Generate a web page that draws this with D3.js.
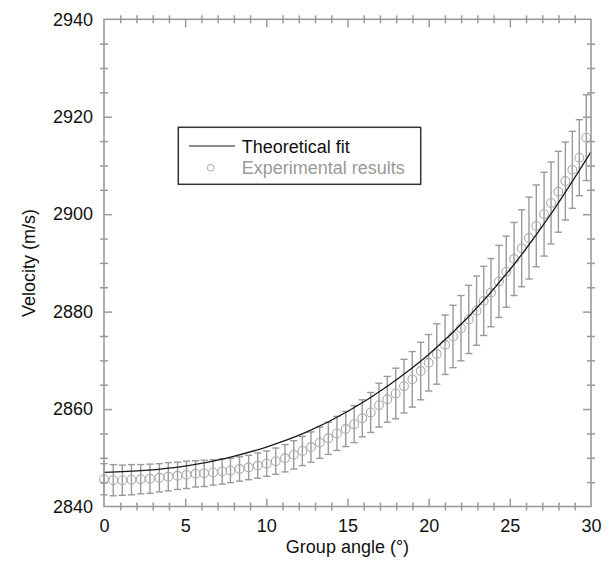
<!DOCTYPE html>
<html>
<head>
<meta charset="utf-8">
<script src="https://cdn.jsdelivr.net/npm/d3@7"></script>
<style>
  html, body { margin: 0; padding: 0; background: #fff; }
  svg { display: block; font-family: "Liberation Sans", Arial, Helvetica, sans-serif; }
</style>
</head>
<body>
<svg id="chart" width="609" height="561"></svg>
<script>
// ---------- data ----------
const xTickLabels = [0, 5, 10, 15, 20, 25, 30];
const yTickLabels = [2840, 2860, 2880, 2900, 2920, 2940];

// Experimental results: group angle (deg)
const expAngle = [
  0.00, 0.57, 1.13, 1.69, 2.26, 2.83, 3.41, 3.96, 4.53, 5.08,
  5.64, 6.17, 6.72, 7.28, 7.79, 8.35, 8.91, 9.47, 10.02, 10.58,
  11.15, 11.69, 12.22, 12.75, 13.29, 13.82, 14.35, 14.89, 15.41, 15.91,
  16.43, 16.94, 17.45, 17.97, 18.48, 18.99, 19.51, 20.00, 20.50, 21.01,
  21.50, 21.99, 22.47, 22.95, 23.39, 23.84, 24.33, 24.78, 25.26, 25.73,
  26.18, 26.63, 27.11, 27.54, 27.99, 28.42, 28.85, 29.28, 29.71
];
// Experimental results: velocity (m/s)
const expVelocity = [
  2845.6, 2845.4, 2845.4, 2845.5, 2845.6, 2845.7, 2845.9, 2846.1, 2846.3, 2846.5,
  2846.7, 2846.8, 2847.0, 2847.2, 2847.4, 2847.7, 2848.0, 2848.4, 2848.8, 2849.3,
  2849.9, 2850.6, 2851.4, 2852.2, 2853.1, 2854.0, 2855.0, 2855.9, 2856.9, 2858.1,
  2859.3, 2860.8, 2862.0, 2863.2, 2864.7, 2866.1, 2867.8, 2869.5, 2871.3, 2873.2,
  2874.9, 2876.6, 2878.4, 2880.2, 2882.2, 2883.9, 2886.2, 2888.2, 2890.8, 2893.0,
  2895.1, 2897.6, 2900.0, 2902.3, 2904.6, 2906.8, 2909.1, 2911.6, 2915.7
];
// Experimental results: error (half bar length, m/s)
const expError = [
  3.2, 3.2, 3.1, 3.1, 3.0, 3.0, 2.9, 2.9, 2.8, 2.8,
  2.7, 2.7, 2.6, 2.6, 2.5, 2.5, 2.5, 2.6, 2.6, 2.7,
  2.8, 2.9, 3.0, 3.1, 3.2, 3.3, 3.5, 3.6, 3.8, 3.8,
  4.1, 4.5, 4.7, 5.2, 5.5, 5.7, 5.9, 5.8, 6.2, 6.1,
  6.4, 6.7, 7.0, 7.1, 7.1, 7.0, 7.4, 7.3, 7.5, 7.9,
  8.4, 8.4, 8.6, 8.4, 8.3, 8.0, 7.9, 7.8, 8.8
];

// Theoretical fit
const fitAngle = [0, 2.5, 5, 7.5, 10, 12.5, 15, 17.5, 20, 22.5, 25, 27.5, 30];
const fitVelocity = [2847.0, 2847.4, 2848.3, 2849.9, 2852.2, 2855.3, 2859.5, 2864.8, 2871.2, 2879.1, 2888.6, 2899.9, 2912.8];

const legendLabels = ["Theoretical fit", "Experimental results"];

// ---------- layout ----------
const L = 104, R = 591, T = 19.3, B = 506.5;
const axisColor = "#9a9a9a";
const svg = d3.select("#chart");

const x = d3.scaleLinear().domain([0, 30]).range([L, R]);
const y = d3.scaleLinear().domain([2840, 2940]).range([B, T]);

const xMajor = [5, 10, 15, 20, 25];
const xMinor = d3.range(1, 30).filter(v => v % 5 !== 0);
const yMajor = [2860, 2880, 2900, 2920];
const yMinor = d3.range(2845, 2940, 5).filter(v => v % 20 !== 0);

const exp = expAngle.map((a, i) => ({ a, v: expVelocity[i], e: expError[i] }));
const fit = fitAngle.map((a, i) => ({ a, v: fitVelocity[i] }));

// ---------- error bars ----------
const eb = svg.append("g").attr("stroke", "#9a9a9a").attr("stroke-width", 1.4).attr("fill", "none");
const capW = 3.6;
exp.forEach(d => {
  const xp = x(d.a), y1 = y(d.v - d.e), y2 = y(d.v + d.e);
  eb.append("line").attr("x1", xp).attr("x2", xp).attr("y1", y1).attr("y2", y2);
  eb.append("line").attr("x1", xp - capW).attr("x2", xp + capW).attr("y1", y1).attr("y2", y1);
  eb.append("line").attr("x1", xp - capW).attr("x2", xp + capW).attr("y1", y2).attr("y2", y2);
});

// ---------- circles ----------
svg.append("g").selectAll("circle").data(exp).join("circle")
  .attr("cx", d => x(d.a)).attr("cy", d => y(d.v)).attr("r", 4.4)
  .attr("fill", "none").attr("stroke", "#ababab").attr("stroke-width", 1.1);

// ---------- theoretical curve ----------
svg.append("path").datum(fit)
  .attr("d", d3.line().x(d => x(d.a)).y(d => y(d.v)).curve(d3.curveMonotoneX))
  .attr("fill", "none").attr("stroke", "#1a1a1a").attr("stroke-width", 1.3);

// ---------- axes ----------
function styleTicks(g) {
  g.select(".domain").remove();
  g.selectAll(".tick line").attr("stroke", axisColor).attr("stroke-width", 1.5);
  g.selectAll(".tick text").remove();
}
// frame
svg.append("rect").attr("x", L).attr("y", T).attr("width", R - L).attr("height", B - T)
  .attr("fill", "none").attr("stroke", axisColor).attr("stroke-width", 1.6);

// bottom
svg.append("g").attr("transform", `translate(0,${B})`)
  .call(d3.axisBottom(x).tickValues(xMajor).tickSize(-8)).call(styleTicks);
svg.append("g").attr("transform", `translate(0,${B + 4})`)
  .call(d3.axisBottom(x).tickValues(xMinor).tickSize(-8)).call(styleTicks);
// top
svg.append("g").attr("transform", `translate(0,${T})`)
  .call(d3.axisTop(x).tickValues(xMajor).tickSize(-8)).call(styleTicks);
svg.append("g").attr("transform", `translate(0,${T - 4})`)
  .call(d3.axisTop(x).tickValues(xMinor).tickSize(-8)).call(styleTicks);
// left
svg.append("g").attr("transform", `translate(${L},0)`)
  .call(d3.axisLeft(y).tickValues(yMajor).tickSize(-8)).call(styleTicks);
svg.append("g").attr("transform", `translate(${L - 4},0)`)
  .call(d3.axisLeft(y).tickValues(yMinor).tickSize(-8)).call(styleTicks);
// right
svg.append("g").attr("transform", `translate(${R},0)`)
  .call(d3.axisRight(y).tickValues(yMajor).tickSize(-8)).call(styleTicks);
svg.append("g").attr("transform", `translate(${R + 4},0)`)
  .call(d3.axisRight(y).tickValues(yMinor).tickSize(-8)).call(styleTicks);

// labels
const xl = svg.append("g").attr("transform", `translate(0,${B})`)
  .call(d3.axisBottom(x).tickValues(xTickLabels).tickSize(0).tickPadding(13).tickFormat(d3.format("d")));
xl.select(".domain").remove();
xl.selectAll("text").attr("font-size", 18).attr("fill", "#111").attr("font-family", null);

const yl = svg.append("g").attr("transform", `translate(${L},0)`)
  .call(d3.axisLeft(y).tickValues(yTickLabels).tickSize(0).tickPadding(11).tickFormat(d3.format("d")));
yl.select(".domain").remove();
yl.selectAll("text").attr("font-size", 18).attr("fill", "#111").attr("font-family", null);

// axis titles
svg.append("text").attr("x", (L + R) / 2).attr("y", 553).attr("text-anchor", "middle")
  .attr("font-size", 18).attr("fill", "#111").text("Group angle (°)");
svg.append("text").attr("transform", `translate(35,${(T + B) / 2}) rotate(-90)`)
  .attr("text-anchor", "middle").attr("font-size", 18).attr("fill", "#111").text("Velocity (m/s)");

// ---------- legend ----------
const lg = svg.append("g");
lg.append("rect").attr("x", 178.3).attr("y", 127.3).attr("width", 242.4).attr("height", 57)
  .attr("fill", "#fff").attr("stroke", "#333").attr("stroke-width", 1.5);
lg.append("line").attr("x1", 189).attr("x2", 235).attr("y1", 146).attr("y2", 146)
  .attr("stroke", "#1a1a1a").attr("stroke-width", 1.2);
lg.append("text").attr("x", 241.7).attr("y", 153.3).attr("font-size", 18).attr("fill", "#111").text(legendLabels[0]);
lg.append("circle").attr("cx", 210.7).attr("cy", 167.7).attr("r", 3.4)
  .attr("fill", "none").attr("stroke", "#ababab").attr("stroke-width", 1);
lg.append("text").attr("x", 241.7).attr("y", 174).attr("font-size", 18).attr("fill", "#9a9a9a").text(legendLabels[1]);
</script>
</body>
</html>
